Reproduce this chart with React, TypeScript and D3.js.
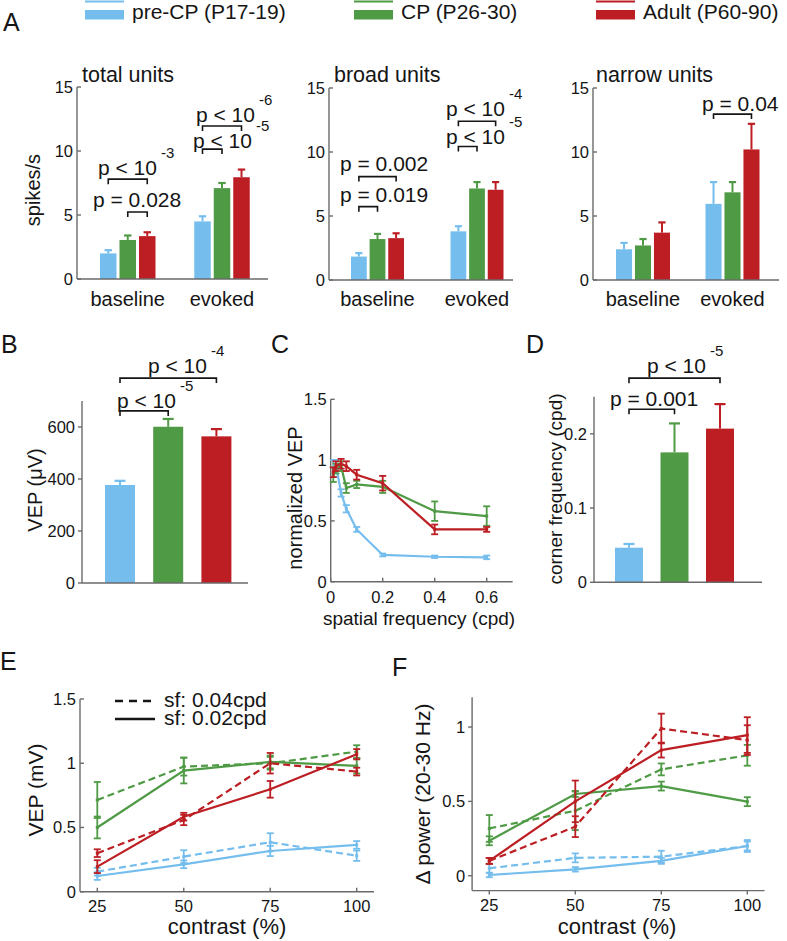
import React from "react";
import * as d3 from "d3";

const FONT = "'Liberation Sans', Arial, Helvetica, sans-serif";
const INK = "#151515";
const AXIS = "#6a6a6a";

// ---------- shared ----------
const groups = ["pre-CP (P17-19)", "CP (P26-30)", "Adult (P60-90)"];
const groupColors = ["#74BDED", "#4F9A45", "#BC1E23"];
const categories = ["baseline", "evoked"];

// ---------- Panel A ----------
const totalBaseline = [2.0, 3.05, 3.35];
const totalBaselineErr = [0.25, 0.35, 0.3];
const totalEvoked = [4.5, 7.1, 7.95];
const totalEvokedErr = [0.4, 0.4, 0.6];

const broadBaseline = [1.83, 3.2, 3.27];
const broadBaselineErr = [0.27, 0.4, 0.38];
const broadEvoked = [3.8, 7.15, 7.05];
const broadEvokedErr = [0.4, 0.5, 0.6];

const narrowBaseline = [2.4, 2.7, 3.7];
const narrowBaselineErr = [0.5, 0.5, 0.8];
const narrowEvoked = [5.95, 6.85, 10.2];
const narrowEvokedErr = [1.7, 0.8, 2.0];

const spikeTicks = [0, 5, 10, 15];

// ---------- Panel B ----------
const vepAmp = [377, 601, 564];
const vepAmpErr = [16, 30, 28];
const vepTicks = [0, 200, 400, 600];

// ---------- Panel C ----------
const sfX = [0.01, 0.02, 0.04, 0.06, 0.1, 0.2, 0.4, 0.6];
const cPre = [0.93, 0.96, 0.73, 0.6, 0.43, 0.22, 0.205, 0.2];
const cPreErr = [0.07, 0.04, 0.03, 0.03, 0.02, 0.012, 0.01, 0.015];
const cCP = [0.88, 0.93, 0.95, 0.77, 0.8, 0.78, 0.58, 0.54];
const cCPErr = [0.06, 0.04, 0.04, 0.04, 0.03, 0.05, 0.08, 0.08];
const cAdult = [0.9, 0.95, 0.97, 0.95, 0.88, 0.81, 0.43, 0.43];
const cAdultErr = [0.04, 0.04, 0.04, 0.04, 0.04, 0.06, 0.04, 0.02];
const cXTicks = [0, 0.2, 0.4, 0.6];
const cYTicks = [0, 0.5, 1, 1.5];

// ---------- Panel D ----------
const cornerFreq = [0.0466, 0.175, 0.207];
const cornerFreqErr = [0.005, 0.039, 0.033];
const cornerTicks = [0, 0.1, 0.2];

// ---------- Panel E ----------
const contrast = [25, 50, 75, 100];
const ePreDash = [0.156, 0.273, 0.385, 0.28];
const ePreDashErr = [0.03, 0.05, 0.07, 0.04];
const ePreSolid = [0.122, 0.213, 0.317, 0.364];
const ePreSolidErr = [0.03, 0.03, 0.04, 0.03];
const eCPDash = [0.714, 0.974, 1.0, 1.09];
const eCPDashErr = [0.14, 0.07, 0.05, 0.05];
const eCPSolid = [0.5, 0.943, 1.01, 0.98];
const eCPSolidErr = [0.085, 0.1, 0.05, 0.06];
const eAdultDash = [0.3, 0.558, 1.0, 0.935];
const eAdultDashErr = [0.03, 0.04, 0.08, 0.03];
const eAdultSolid = [0.195, 0.584, 0.797, 1.07];
const eAdultSolidErr = [0.05, 0.03, 0.065, 0.04];
const eYTicks = [0, 0.5, 1, 1.5];

// ---------- Panel F ----------
const fPreDash = [0.05, 0.12, 0.128, 0.2];
const fPreDashErr = [0.03, 0.03, 0.04, 0.04];
const fPreSolid = [0.005, 0.043, 0.1, 0.2];
const fPreSolidErr = [0.015, 0.015, 0.02, 0.03];
const fCPDash = [0.318, 0.437, 0.715, 0.81];
const fCPDashErr = [0.09, 0.13, 0.04, 0.07];
const fCPSolid = [0.235, 0.55, 0.603, 0.498];
const fCPSolidErr = [0.03, 0.02, 0.03, 0.03];
const fAdultDash = [0.1, 0.33, 0.99, 0.912];
const fAdultDashErr = [0.02, 0.07, 0.1, 0.1];
const fAdultSolid = [0.1, 0.5, 0.845, 0.946];
const fAdultSolidErr = [0.02, 0.14, 0.05, 0.12];
const fYTicks = [0, 0.5, 1];
const contrastTicks = [25, 50, 75, 100];

const legendLabels = ["sf: 0.04cpd", "sf: 0.02cpd"];

// ---------- helpers ----------
type Bracket = {
  cat: number; from: number; to: number; y: number;
  label: string; exp?: string; tx: number; dy: number;
};

function PText({ x, y, label, exp }: { x: number; y: number; label: string; exp?: string }) {
  return (
    <text x={x} y={y} fontSize={21} fontFamily={FONT} fill={INK}>
      {label}
      {exp ? <tspan dx={4} dy={-17} fontSize={15}>{exp}</tspan> : null}
    </text>
  );
}

function fmtNum(v: number) {
  return String(+v.toFixed(2));
}

type BarSeries = { values: number[]; errs: number[] };

function BarPanel(props: {
  axisX: number; axisEnd: number; yBottom: number; yTop: number; yMax: number;
  ticks: number[]; catCenters: number[]; catNames: string[]; bandHalf: number; padInner: number;
  series: BarSeries[]; brackets: Bracket[]; tickIn: boolean; catLabelY?: number;
}) {
  const { axisX, axisEnd, yBottom, yTop, yMax, ticks, catCenters, catNames, bandHalf, padInner, series, brackets, tickIn } = props;
  const y = d3.scaleLinear().domain([0, yMax]).range([yBottom, yTop]);
  const cx = d3.scaleOrdinal<string, number>().domain(catNames).range(catCenters);
  const inner = d3.scaleBand<string>().domain(groups).range([-bandHalf, bandHalf]).paddingInner(padInner);
  const bw = inner.bandwidth();
  const cap = Math.min(bw * 0.45, 11);
  const tl = 4;
  return (
    <g>
      {series.map((s, ci) =>
        s.values.map((v, gi) => {
          const x0 = cx(catNames[ci]) + (inner(groups[gi]) as number);
          const xc = x0 + bw / 2;
          return (
            <g key={`${ci}-${gi}`}>
              <line x1={xc} x2={xc} y1={y(v)} y2={y(v + s.errs[gi])} stroke={groupColors[gi]} strokeWidth={2} />
              <line x1={xc - cap / 2} x2={xc + cap / 2} y1={y(v + s.errs[gi])} y2={y(v + s.errs[gi])} stroke={groupColors[gi]} strokeWidth={2.2} />
              <rect x={x0} y={y(v)} width={bw} height={y(0) - y(v)} fill={groupColors[gi]} />
            </g>
          );
        })
      )}
      <line x1={axisX} x2={axisX} y1={y(0)} y2={y(yMax)} stroke={AXIS} strokeWidth={1.4} />
      <line x1={axisX} x2={axisEnd} y1={y(0)} y2={y(0)} stroke={AXIS} strokeWidth={1.4} />
      {ticks.map((t) => (
        <g key={t}>
          <line x1={axisX} x2={tickIn ? axisX + tl : axisX - tl} y1={y(t)} y2={y(t)} stroke={AXIS} strokeWidth={1.4} />
          <text x={axisX - (tickIn ? 4 : 7)} y={y(t) + 6} textAnchor="end" fontSize={16.5} fontFamily={FONT} fill={INK}>
            {fmtNum(t)}
          </text>
        </g>
      ))}
      {props.catLabelY !== undefined &&
        catNames.map((c) => (
          <text key={c} x={cx(c)} y={props.catLabelY} textAnchor="middle" fontSize={20} fontFamily={FONT} fill={INK}>
            {c}
          </text>
        ))}
      {brackets.map((b, i) => {
        const xa = cx(catNames[b.cat]) + (inner(groups[b.from]) as number) + bw / 2;
        const xb = cx(catNames[b.cat]) + (inner(groups[b.to]) as number) + bw / 2;
        const yy = y(b.y);
        return (
          <g key={i}>
            <path d={`M${xa},${yy + 5}V${yy}H${xb}V${yy + 5}`} fill="none" stroke={INK} strokeWidth={1.6} />
            <PText x={b.tx} y={yy + b.dy} label={b.label} exp={b.exp} />
          </g>
        );
      })}
    </g>
  );
}

type LineSeries = { x: number[]; y: number[]; e: number[]; color: string; dashed?: boolean };

function LinePanel(props: {
  xDomain: [number, number]; xRange: [number, number]; yDomain: [number, number]; yRange: [number, number];
  xTicks: number[]; yTicks: number[]; lines: LineSeries[]; yTickIn: boolean; xTickIn: boolean; xLabelY: number;
}) {
  const { xDomain, xRange, yDomain, yRange, xTicks, yTicks, lines, yTickIn, xTickIn, xLabelY } = props;
  const x = d3.scaleLinear().domain(xDomain).range(xRange);
  const y = d3.scaleLinear().domain(yDomain).range(yRange);
  const gen = d3.line<[number, number]>().x((d) => x(d[0])).y((d) => y(d[1]));
  const tl = 4;
  const ax = xRange[0];
  const ay = yRange[0];
  return (
    <g>
      <line x1={ax} x2={ax} y1={yRange[0]} y2={yRange[1]} stroke={AXIS} strokeWidth={1.4} />
      <line x1={xRange[0]} x2={xRange[1]} y1={ay} y2={ay} stroke={AXIS} strokeWidth={1.4} />
      {yTicks.map((t) => (
        <g key={"y" + t}>
          <line x1={ax} x2={yTickIn ? ax + tl : ax - tl} y1={y(t)} y2={y(t)} stroke={AXIS} strokeWidth={1.4} />
          <text x={ax - (yTickIn ? 4 : 7)} y={y(t) + 6} textAnchor="end" fontSize={16.5} fontFamily={FONT} fill={INK}>
            {fmtNum(t)}
          </text>
        </g>
      ))}
      {xTicks.map((t) => (
        <g key={"x" + t}>
          <line x1={x(t)} x2={x(t)} y1={ay} y2={xTickIn ? ay - tl : ay + tl} stroke={AXIS} strokeWidth={1.4} />
          <text x={x(t)} y={xLabelY} textAnchor="middle" fontSize={16.5} fontFamily={FONT} fill={INK}>
            {fmtNum(t)}
          </text>
        </g>
      ))}
      {lines.map((s, i) => {
        const pts = s.x.map((xv, k) => [xv, s.y[k]] as [number, number]);
        return (
          <g key={i}>
            <path d={gen(pts) || ""} fill="none" stroke={s.color} strokeWidth={2.2} strokeDasharray={s.dashed ? "7,4" : undefined} />
            {pts.map((p, k) => {
              const xc = x(p[0]);
              const y1 = y(p[1] - s.e[k]);
              const y2 = y(p[1] + s.e[k]);
              return (
                <g key={k}>
                  <line x1={xc} x2={xc} y1={y1} y2={y2} stroke={s.color} strokeWidth={1.8} />
                  <line x1={xc - 3.5} x2={xc + 3.5} y1={y1} y2={y1} stroke={s.color} strokeWidth={1.8} />
                  <line x1={xc - 3.5} x2={xc + 3.5} y1={y2} y2={y2} stroke={s.color} strokeWidth={1.8} />
                  <rect x={xc - 1.5} y={y(p[1]) - 1.5} width={3} height={3} fill={s.color} />
                </g>
              );
            })}
          </g>
        );
      })}
    </g>
  );
}

function YLabel({ x, y, text, size = 20 }: { x: number; y: number; text: string; size?: number }) {
  return (
    <text transform={`translate(${x},${y}) rotate(-90)`} textAnchor="middle" fontSize={size} fontFamily={FONT} fill={INK}>
      {text}
    </text>
  );
}

function Txt({ x, y, text, size = 20, anchor = "start" }: { x: number; y: number; text: string; size?: number; anchor?: string }) {
  return (
    <text x={x} y={y} textAnchor={anchor as any} fontSize={size} fontFamily={FONT} fill={INK}>
      {text}
    </text>
  );
}

export default function App() {
  const legendX = [85, 354, 596];
  const lineSeries = (ys: number[][], es: number[][], dashes: boolean[], colors: string[]): LineSeries[] =>
    ys.map((yy, i) => ({ x: contrast, y: yy, e: es[i], color: colors[i], dashed: dashes[i] }));

  return (
    <svg width={787} height={941} style={{ position: "absolute", left: 0, top: 0, background: "#fff" }}>
      <rect width={787} height={941} fill="#fff" />
      {/* legend */}
      {groups.map((g, i) => (
        <g key={g}>
          <line x1={legendX[i]} x2={legendX[i] + 39} y1={1.5} y2={1.5} stroke={groupColors[i]} strokeWidth={2} />
          <rect x={legendX[i]} y={10} width={39} height={9.5} fill={groupColors[i]} />
          <Txt x={legendX[i] + 47} y={19} text={g} size={21} />
        </g>
      ))}

      {/* Panel letters */}
      <Txt x={3} y={31} text="A" size={25} />
      <Txt x={1} y={353} text="B" size={25} />
      <Txt x={271} y={353} text="C" size={25} />
      <Txt x={526} y={353} text="D" size={25} />
      <Txt x={0} y={670} text="E" size={25} />
      <Txt x={392} y={676} text="F" size={25} />

      {/* Panel A */}
      <Txt x={82} y={82} text="total units" size={21.5} />
      <Txt x={334} y={82} text="broad units" size={21.5} />
      <Txt x={596} y={82} text="narrow units" size={21.5} />
      <YLabel x={40} y={190} text="spikes/s" />
      <BarPanel
        axisX={77} axisEnd={268} yBottom={279} yTop={87} yMax={15} ticks={spikeTicks}
        catCenters={[127.75, 222]} catNames={categories} bandHalf={27.75} padInner={0.154}
        series={[{ values: totalBaseline, errs: totalBaselineErr }, { values: totalEvoked, errs: totalEvokedErr }]}
        tickIn={true} catLabelY={306}
        brackets={[
          { cat: 0, from: 0, to: 2, y: 7.8, label: "p < 10", exp: "-3", tx: 98, dy: -4 },
          { cat: 0, from: 1, to: 2, y: 5.23, label: "p = 0.028", tx: 93, dy: -5 },
          { cat: 1, from: 0, to: 2, y: 11.95, label: "p < 10", exp: "-6", tx: 196, dy: -4 },
          { cat: 1, from: 0, to: 1, y: 10.15, label: "p < 10", exp: "-5", tx: 193, dy: -1 },
        ]}
      />
      <BarPanel
        axisX={329} axisEnd={513} yBottom={280} yTop={88} yMax={15} ticks={spikeTicks}
        catCenters={[377.5, 477]} catNames={categories} bandHalf={26.5} padInner={0.154}
        series={[{ values: broadBaseline, errs: broadBaselineErr }, { values: broadEvoked, errs: broadEvokedErr }]}
        tickIn={true} catLabelY={306}
        brackets={[
          { cat: 0, from: 0, to: 2, y: 8.08, label: "p = 0.002", tx: 340, dy: -6 },
          { cat: 0, from: 0, to: 1, y: 5.73, label: "p = 0.019", tx: 340, dy: -5 },
          { cat: 1, from: 0, to: 2, y: 12.4, label: "p < 10", exp: "-4", tx: 446, dy: -5 },
          { cat: 1, from: 0, to: 1, y: 10.43, label: "p < 10", exp: "-5", tx: 446, dy: -2 },
        ]}
      />
      <BarPanel
        axisX={593} axisEnd={779} yBottom={280} yTop={88} yMax={15} ticks={spikeTicks}
        catCenters={[643, 732.5]} catNames={categories} bandHalf={27} padInner={0.154}
        series={[{ values: narrowBaseline, errs: narrowBaselineErr }, { values: narrowEvoked, errs: narrowEvokedErr }]}
        tickIn={true} catLabelY={306}
        brackets={[{ cat: 1, from: 0, to: 2, y: 12.96, label: "p = 0.04", tx: 702, dy: -3 }]}
      />

      {/* Panel B */}
      <YLabel x={42} y={490} text="VEP (μV)" />
      <BarPanel
        axisX={82} axisEnd={248} yBottom={583} yTop={401} yMax={700} ticks={vepTicks}
        catCenters={[168.2]} catNames={["all"]} bandHalf={63.2} padInner={0.378}
        series={[{ values: vepAmp, errs: vepAmpErr }]} tickIn={false}
        brackets={[
          { cat: 0, from: 0, to: 2, y: 788, label: "p < 10", exp: "-4", tx: 148, dy: -5 },
          { cat: 0, from: 0, to: 1, y: 662, label: "p < 10", exp: "-5", tx: 117, dy: -3 },
        ]}
      />

      {/* Panel C */}
      <YLabel x={302} y={498} text="normalized VEP" />
      <LinePanel
        xDomain={[0, 0.7]} xRange={[330.7, 512.7]} yDomain={[0, 1.5]} yRange={[581.7, 399.3]}
        xTicks={cXTicks} yTicks={cYTicks} yTickIn={true} xTickIn={true} xLabelY={603}
        lines={[
          { x: sfX, y: cPre, e: cPreErr, color: groupColors[0] },
          { x: sfX, y: cCP, e: cCPErr, color: groupColors[1] },
          { x: sfX, y: cAdult, e: cAdultErr, color: groupColors[2] },
        ]}
      />
      <Txt x={419} y={625} text="spatial frequency (cpd)" size={19} anchor="middle" />

      {/* Panel D */}
      <YLabel x={562} y={489} text="corner frequency (cpd)" size={19} />
      <BarPanel
        axisX={594} axisEnd={762} yBottom={582.3} yTop={396.7} yMax={0.25} ticks={cornerTicks}
        catCenters={[674.5]} catNames={["all"]} bandHalf={59.5} padInner={0.385}
        series={[{ values: cornerFreq, errs: cornerFreqErr }]} tickIn={false}
        brackets={[
          { cat: 0, from: 0, to: 2, y: 0.275, label: "p < 10", exp: "-5", tx: 647, dy: -5 },
          { cat: 0, from: 0, to: 1, y: 0.233, label: "p = 0.001", tx: 610, dy: -3 },
        ]}
      />

      {/* Panel E */}
      <YLabel x={43} y={790} text="VEP (mV)" size={21} />
      <LinePanel
        xDomain={[20, 105]} xRange={[80, 374]} yDomain={[0, 1.5]} yRange={[891.7, 699]}
        xTicks={contrastTicks} yTicks={eYTicks} yTickIn={true} xTickIn={true} xLabelY={912}
        lines={lineSeries(
          [ePreDash, ePreSolid, eCPDash, eCPSolid, eAdultDash, eAdultSolid],
          [ePreDashErr, ePreSolidErr, eCPDashErr, eCPSolidErr, eAdultDashErr, eAdultSolidErr],
          [true, false, true, false, true, false],
          [groupColors[0], groupColors[0], groupColors[1], groupColors[1], groupColors[2], groupColors[2]]
        )}
      />
      <line x1={115} x2={155} y1={701} y2={701} stroke={INK} strokeWidth={2.5} strokeDasharray="8,6" />
      <line x1={115} x2={155} y1={719} y2={719} stroke={INK} strokeWidth={2.5} />
      <Txt x={164} y={707} text={legendLabels[0]} size={21} />
      <Txt x={164} y={725} text={legendLabels[1]} size={21} />
      <Txt x={227} y={934} text="contrast (%)" size={22} anchor="middle" />

      {/* Panel F */}
      <YLabel x={430} y={794} text="Δ power (20-30 Hz)" size={21} />
      <LinePanel
        xDomain={[20, 105]} xRange={[472.1, 764.5]} yDomain={[-0.1, 1.2]} yRange={[890.6, 697.3]}
        xTicks={contrastTicks} yTicks={fYTicks} yTickIn={false} xTickIn={false} xLabelY={911}
        lines={lineSeries(
          [fPreDash, fPreSolid, fCPDash, fCPSolid, fAdultDash, fAdultSolid],
          [fPreDashErr, fPreSolidErr, fCPDashErr, fCPSolidErr, fAdultDashErr, fAdultSolidErr],
          [true, false, true, false, true, false],
          [groupColors[0], groupColors[0], groupColors[1], groupColors[1], groupColors[2], groupColors[2]]
        )}
      />
      <Txt x={617} y={934} text="contrast (%)" size={22} anchor="middle" />
    </svg>
  );
}
